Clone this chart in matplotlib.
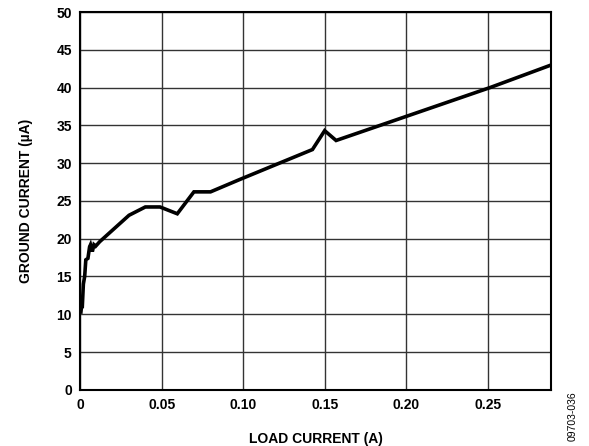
import matplotlib.pyplot as plt

plt.rcParams["font.family"] = ["Liberation Sans", "DejaVu Sans"]

load_current = [0.0005, 0.001, 0.0013, 0.002, 0.0028, 0.0035, 0.0048, 0.0058, 0.0064,
                0.0075, 0.0085, 0.0095, 0.012, 0.030, 0.040, 0.049, 0.0596, 0.0698,
                0.080, 0.0975, 0.1425, 0.150, 0.157, 0.184, 0.2514, 0.289]
ground_current = [10.3, 11.3, 10.8, 14.0, 15.0, 17.2, 17.4, 18.9, 19.2,
                  18.3, 19.2, 19.0, 19.6, 23.1, 24.2, 24.2, 23.3, 26.2,
                  26.2, 27.8, 31.8, 34.3, 33.0, 35.0, 40.0, 43.0]

x_ticks = [0, 0.05, 0.10, 0.15, 0.20, 0.25]
x_tick_labels = ["0", "0.05", "0.10", "0.15", "0.20", "0.25"]
y_ticks = list(range(0, 55, 5))

fig = plt.figure(figsize=(5.89, 4.46), dpi=100)
ax = fig.add_axes([0.136, 0.126, 0.800, 0.847])

ax.plot(load_current, ground_current, color="black", linewidth=2.6,
        solid_joinstyle="miter", zorder=3)

ax.set_xlim(0, 0.289)
ax.set_ylim(0, 50)
ax.set_xticks(x_ticks)
ax.set_xticklabels(x_tick_labels, fontsize=10, fontweight="bold")
ax.set_yticks(y_ticks)
ax.set_yticklabels([str(v) for v in y_ticks], fontsize=10, fontweight="bold")
ax.tick_params(length=0, pad=6)
ax.grid(True, color="#333333", linewidth=1.0)

for spine in ax.spines.values():
    spine.set_linewidth(1.5)
    spine.set_color("black")

ax.set_xlabel("LOAD CURRENT (A)", fontsize=10, fontweight="bold", labelpad=14)
ax.set_ylabel("GROUND CURRENT (µA)", fontsize=10, fontweight="bold", labelpad=17)

fig.text(0.972, 0.012, "09703-036", rotation=90, fontsize=7.5, ha="center", va="bottom")

plt.savefig("out.png", dpi=100)
